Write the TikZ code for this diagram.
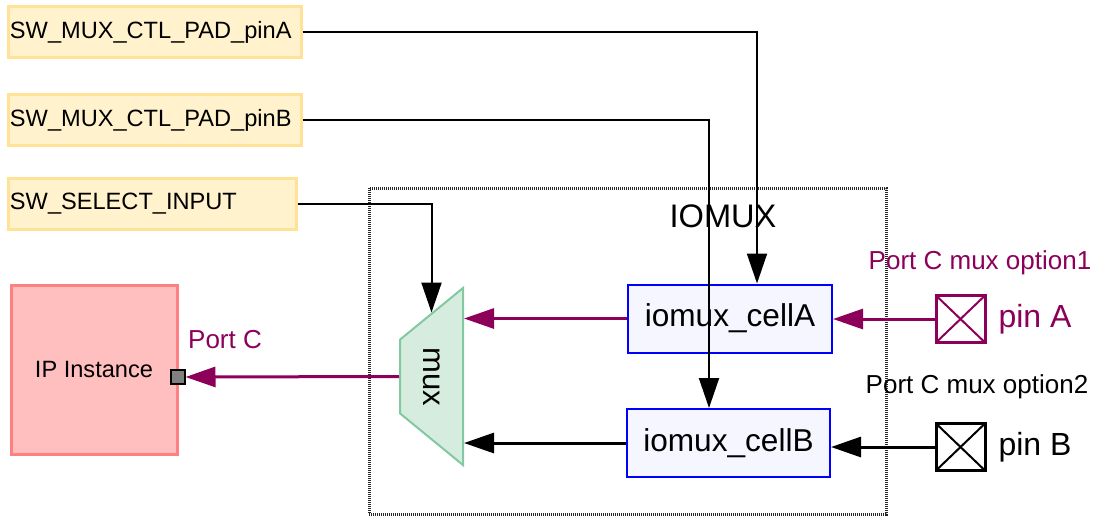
\documentclass[tikz,border=0pt]{standalone}
\usepackage{fontspec}
\setmainfont{Liberation Sans}
\usepackage{tikz}
\usetikzlibrary{positioning,arrows.meta,shapes.geometric,calc}
\definecolor{cViolet}{RGB}{140,0,90}
\definecolor{cRegFond}{RGB}{255,242,204}
\definecolor{cRegBord}{RGB}{255,226,150}
\definecolor{cIPFond}{RGB}{255,191,191}
\definecolor{cIPBord}{RGB}{255,128,128}
\definecolor{cMuxFond}{RGB}{214,236,222}
\definecolor{cMuxBord}{RGB}{130,200,160}
\definecolor{cCellFond}{RGB}{245,246,255}
\definecolor{cCellBord}{RGB}{0,0,255}
\tikzset{
  >={Triangle[length=15pt,width=10pt]},
  registre/.style={draw=cRegBord, fill=cRegFond, line width=1.5pt, align=left,
    font=\fontsize{11.8}{14}\selectfont, inner xsep=1pt, inner ysep=0pt,
    minimum height=25.5pt, text width=#1},
  registre/.default=144.5pt,
  cellule/.style={draw=cCellBord, fill=cCellFond, line width=1pt, inner sep=0pt,
    font=\fontsize{15.8}{18}\selectfont, minimum height=34pt, minimum width=#1},
  cellule/.default=102pt,
  broche/.style={draw=#1, line width=1.5pt, inner sep=0pt,
    minimum width=24.5pt, minimum height=23.5pt,
    path picture={\draw[#1, line width=1pt]
      (path picture bounding box.south west) -- (path picture bounding box.north east)
      (path picture bounding box.north west) -- (path picture bounding box.south east);}},
  muxe/.style={trapezium, trapezium stretches=true, trapezium left angle=55,
    trapezium right angle=55, rotate=90, minimum width=88.5pt, minimum height=31.5pt,
    inner sep=1pt, draw=cMuxBord, fill=cMuxFond, line width=1pt},
  bloc/.style={draw=cIPBord, fill=cIPFond, line width=1.5pt, inner sep=0pt,
    font=\fontsize{11.8}{14}\selectfont, minimum width=83pt, minimum height=84.5pt},
  port/.style={draw=black, fill=gray, line width=1pt, inner sep=0pt, minimum size=7pt},
  cadre/.style={draw=black!85, line width=1.5pt, dash pattern=on 0.5pt off 0.5pt},
  etiq/.style={font=\fontsize{13}{15}\selectfont},
  fleche/.style={->, line width=1pt},
  flecheV/.style={->, line width=1.5pt, draw=cViolet},
}
\begin{document}
\begin{tikzpicture}[x=0.5pt, y=-0.5pt]
  \useasboundingbox (0,0) rectangle (1096,516);
  % bloc IOMUX
  \node[cadre, minimum width=258.5pt, minimum height=163pt] (iomux) at (627.5,351) {};
  \node[font=\fontsize{16.3}{19}\selectfont] (titre) at (723,216) {IOMUX};
  % registres
  \node[registre] (regA) at (154.5,32) {SW\_MUX\_CTL\_PAD\_pinA};
  \node[registre] (regB) at (154.5,120) {SW\_MUX\_CTL\_PAD\_pinB};
  \node[registre=142pt] (regS) at (152,204) {SW\_SELECT\_INPUT};
  % instance IP et son port
  \node[bloc] (ip) at (94,369.5) {IP Instance};
  \node[port] (port) at (177.5,377) {};
  \node[etiq, text=cViolet] (portC) at (225,340) {Port C};
  % mux
  \node[muxe] (mux) at (431.5,376.5) {};
  \node[rotate=-90, font=\fontsize{15.5}{18}\selectfont] (muxtxt) at (mux.center) {mux};
  % cellules
  \node[cellule=102pt] (cellA) at (730,318.5) {iomux\_cellA};
  \node[cellule=101.5pt] (cellB) at (728.5,443) {iomux\_cellB};
  % broches
  \node[broche=cViolet] (pinA) at (960.5,319) {};
  \node[broche=black] (pinB) at (960.5,447) {};
  \node[right=2.5pt of pinA, text=cViolet, font=\fontsize{16}{19}\selectfont] (nomA) {pin A};
  \node[right=2.5pt of pinB, font=\fontsize{16}{19}\selectfont] (nomB) {pin B};
  \node[etiq, text=cViolet] (optA) at (980,263) {Port C mux option1};
  \node[etiq] (optB) at (977,387) {Port C mux option2};
  % liaisons
  \draw[fleche] (regA.east) -| ([xshift=13.5pt]cellA.north);
  \draw[fleche] (regB.east) -| ([xshift=-9.75pt]cellB.north);
  \draw[fleche] (regS.east) -| (mux.right side);
  \draw[flecheV] (cellA.west) -- (cellA.west -| mux.south);
  \draw[fleche, line width=1.5pt] (cellB.west) -- (cellB.west -| mux.south);
  \draw[flecheV] (mux.north) -- (port.east);
  \draw[flecheV] (pinA.west) -- (pinA.west -| cellA.east);
  \draw[fleche, line width=1.5pt] (pinB.west) -- (pinB.west -| cellB.east);
\end{tikzpicture}
\end{document}
